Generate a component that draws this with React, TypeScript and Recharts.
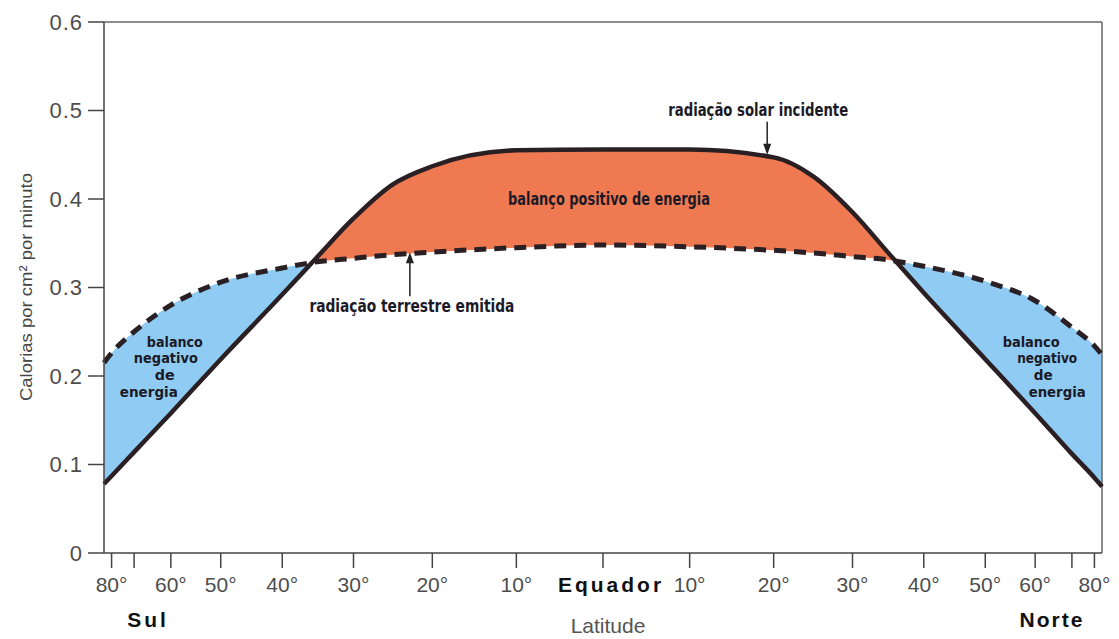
import React from 'react'
import { ComposedChart, Area, Line, XAxis, YAxis, ReferenceLine, ReferenceDot } from 'recharts'

// latitude (negative = Sul), values in calorias por cm² por minuto
const latitudes = [-90, -80, -70, -60, -50, -40, -35, -30, -25, -20, -10, 0, 10, 20, 25, 30, 35, 40, 50, 60, 70, 80, 90]
const solarIncidente = [0.078, 0.087, 0.114, 0.158, 0.219, 0.292, 0.334, 0.378, 0.416, 0.437, 0.455, 0.456, 0.456, 0.447, 0.425, 0.385, 0.338, 0.294, 0.219, 0.158, 0.112, 0.085, 0.075]
const terrestreEmitida = [0.215, 0.226, 0.25, 0.28, 0.306, 0.322, 0.329, 0.333, 0.337, 0.34, 0.345, 0.348, 0.346, 0.342, 0.339, 0.335, 0.331, 0.324, 0.307, 0.285, 0.255, 0.234, 0.224]

const tickLatitudes = [-80, -70, -60, -50, -40, -30, -20, -10, 0, 10, 20, 30, 40, 50, 60, 70, 80]
const tickLabels = ['80°', '', '60°', '50°', '40°', '30°', '20°', '10°', 'Equador', '10°', '20°', '30°', '40°', '50°', '60°', '', '80°']
const yTicks = [0, 0.1, 0.2, 0.3, 0.4, 0.5, 0.6]

const BLUE = '#8fcbf2'
const ORANGE = '#ef7a52'
const INK = '#2a2024'
const AXIS_FONT = "'Liberation Sans', Arial, Helvetica, sans-serif"
const NOTE_FONT = "'DejaVu Sans Condensed', 'Liberation Sans Narrow', sans-serif"

// x axis is area-weighted: position = sin(latitude)
const toX = (lat: number) => Math.sin((lat * Math.PI) / 180)

const data = latitudes.map((lat, i) => ({
  x: toX(lat),
  solar: solarIncidente[i],
  terrestre: terrestreEmitida[i],
  faixa: [terrestreEmitida[i], solarIncidente[i]],
}))

// where the two curves cross -> gradient stops (fraction of the x range)
const crossings: number[] = []
for (let i = 1; i < data.length; i++) {
  const d0 = data[i - 1].solar - data[i - 1].terrestre
  const d1 = data[i].solar - data[i].terrestre
  if (d0 < 0 !== d1 < 0) {
    const t = d0 / (d0 - d1)
    const x = data[i - 1].x + t * (data[i].x - data[i - 1].x)
    crossings.push((x + 1) / 2)
  }
}

const LatTick = (props: any) => {
  const { x, y, index } = props
  const label = tickLabels[index] ?? ''
  const eq = label === 'Equador'
  return (
    <text
      x={eq ? x + 8 : x}
      y={y + 22}
      textAnchor="middle"
      fontFamily={AXIS_FONT}
      fontSize={21}
      fontWeight={eq ? 'bold' : 'normal'}
      letterSpacing={eq ? 3 : 0}
      fill={eq ? '#111' : '#4d4d4d'}
    >
      {label}
    </text>
  )
}

const XLabels = (props: any) => {
  const { viewBox } = props
  const x0 = viewBox.x
  const w = viewBox.width
  const y0 = viewBox.y
  return (
    <g fontFamily={AXIS_FONT}>
      <text x={x0 + 44} y={y0 + 74} textAnchor="middle" fontSize={21} fontWeight="bold" letterSpacing={3} fill="#111">
        Sul
      </text>
      <text x={x0 + w - 50} y={y0 + 74} textAnchor="middle" fontSize={21} fontWeight="bold" letterSpacing={2} fill="#111">
        Norte
      </text>
      <text x={x0 + w / 2 + 5} y={y0 + 80} textAnchor="middle" fontSize={21} fill="#555">
        Latitude
      </text>
    </g>
  )
}

const YLabel = () => (
  <text
    transform="translate(24, 279) rotate(-90)"
    textAnchor="middle"
    fontFamily={AXIS_FONT}
    fontSize={17}
    fill="#444"
    textLength={228}
    lengthAdjust="spacingAndGlyphs"
  >
    Calorias por cm² por minuto
  </text>
)

const Note = ({ cx, cy, lines, arrow, size }: any) => (
  <g fontFamily={NOTE_FONT} fontWeight="bold" fontSize={size} fill="#1c1a26">
    {lines.map((l: any, i: number) => (
      <text
        key={i}
        x={cx + l.dx}
        y={cy + l.dy}
        textAnchor="middle"
        textLength={l.w}
        lengthAdjust="spacingAndGlyphs"
      >
        {l.t}
      </text>
    ))}
    {arrow && (
      <g>
        <line x1={cx + arrow.dx} y1={cy + arrow.from} x2={cx + arrow.dx} y2={cy + arrow.to - (arrow.to > arrow.from ? 9 : -9)} stroke="#222" strokeWidth={1.5} />
        <polygon
          points={`${cx + arrow.dx - 4},${cy + arrow.to - (arrow.to > arrow.from ? 11 : -11)} ${cx + arrow.dx + 4},${cy + arrow.to - (arrow.to > arrow.from ? 11 : -11)} ${cx + arrow.dx},${cy + arrow.to}`}
          fill="#222"
        />
      </g>
    )}
  </g>
)

const notes = [
  { x: 0.311, y: 0.494, size: 17, lines: [{ t: 'radiação solar incidente', dx: 0, dy: 0, w: 180 }], arrow: { dx: 9, from: 6, to: 39 } },
  { x: 0.012, y: 0.393, size: 17, lines: [{ t: 'balanço positivo de energia', dx: 0, dy: 0, w: 202 }] },
  { x: -0.383, y: 0.272, size: 17, lines: [{ t: 'radiação terrestre emitida', dx: 0, dy: 0, w: 205 }], arrow: { dx: -2, from: -16, to: -60 } },
  {
    x: -0.858,
    y: 0.233,
    size: 14,
    lines: [
      { t: 'balanco', dx: 0, dy: 0, w: 56 },
      { t: 'negativo', dx: -9, dy: 16, w: 64 },
      { t: 'de', dx: -10, dy: 33, w: 20 },
      { t: 'energia', dx: -26, dy: 50, w: 58 },
    ],
  },
  {
    x: 0.858,
    y: 0.233,
    size: 14,
    lines: [
      { t: 'balanco', dx: 0, dy: 0, w: 57 },
      { t: 'negativo', dx: 16, dy: 16, w: 60 },
      { t: 'de', dx: 12, dy: 33, w: 19 },
      { t: 'energia', dx: 26, dy: 50, w: 57 },
    ],
  },
]

export default function App() {
  const [c1, c2] = crossings
  return (
    <div style={{ width: 1111, height: 631 }}>
      <ComposedChart width={1111} height={631} data={data} margin={{ top: 14, right: 17, bottom: 0, left: 0 }}>
        <defs>
          <linearGradient id="balanco" x1="0" y1="0" x2="1" y2="0">
            <stop offset={0} stopColor={BLUE} />
            <stop offset={c1} stopColor={BLUE} />
            <stop offset={c1} stopColor={ORANGE} />
            <stop offset={c2} stopColor={ORANGE} />
            <stop offset={c2} stopColor={BLUE} />
            <stop offset={1} stopColor={BLUE} />
          </linearGradient>
        </defs>
        <XAxis
          dataKey="x"
          type="number"
          domain={[-1, 1]}
          ticks={tickLatitudes.map(toX)}
          interval={0}
          height={86}
          tickSize={15}
          tickMargin={2}
          tick={<LatTick />}
          axisLine={{ stroke: '#444', strokeWidth: 1.5 }}
          tickLine={{ stroke: '#444', strokeWidth: 1.5 }}
          label={<XLabels />}
        />
        <YAxis
          type="number"
          domain={[0, 0.6]}
          ticks={yTicks}
          width={96}
          tickSize={16}
          tickMargin={5}
          tickFormatter={(v: number) => (v === 0 ? '0' : v.toFixed(1))}
          tick={{ fontFamily: AXIS_FONT, fontSize: 22, fill: '#4d4d4d', letterSpacing: 1 }}
          axisLine={{ stroke: '#444', strokeWidth: 1.5 }}
          tickLine={{ stroke: '#444', strokeWidth: 1.5 }}
          label={<YLabel />}
        />
        <ReferenceLine y={0.6} stroke="#666" strokeWidth={1.5} />
        <ReferenceLine x={1} stroke="#666" strokeWidth={1.5} />
        <Area
          dataKey="faixa"
          type="monotone"
          stroke="none"
          fill="url(#balanco)"
          fillOpacity={1}
          isAnimationActive={false}
          activeDot={false}
        />
        <Line
          dataKey="terrestre"
          type="monotone"
          stroke={INK}
          strokeWidth={5}
          strokeDasharray="12 8"
          dot={false}
          activeDot={false}
          isAnimationActive={false}
        />
        <Line
          dataKey="solar"
          type="monotone"
          stroke={INK}
          strokeWidth={4.5}
          dot={false}
          activeDot={false}
          isAnimationActive={false}
        />
        {notes.map((n, i) => (
          <ReferenceDot
            key={i}
            x={n.x}
            y={n.y}
            r={0}
            ifOverflow="visible"
            shape={(p: any) => <Note cx={p.cx} cy={p.cy} lines={n.lines} arrow={n.arrow} size={n.size} />}
          />
        ))}
      </ComposedChart>
    </div>
  )
}
